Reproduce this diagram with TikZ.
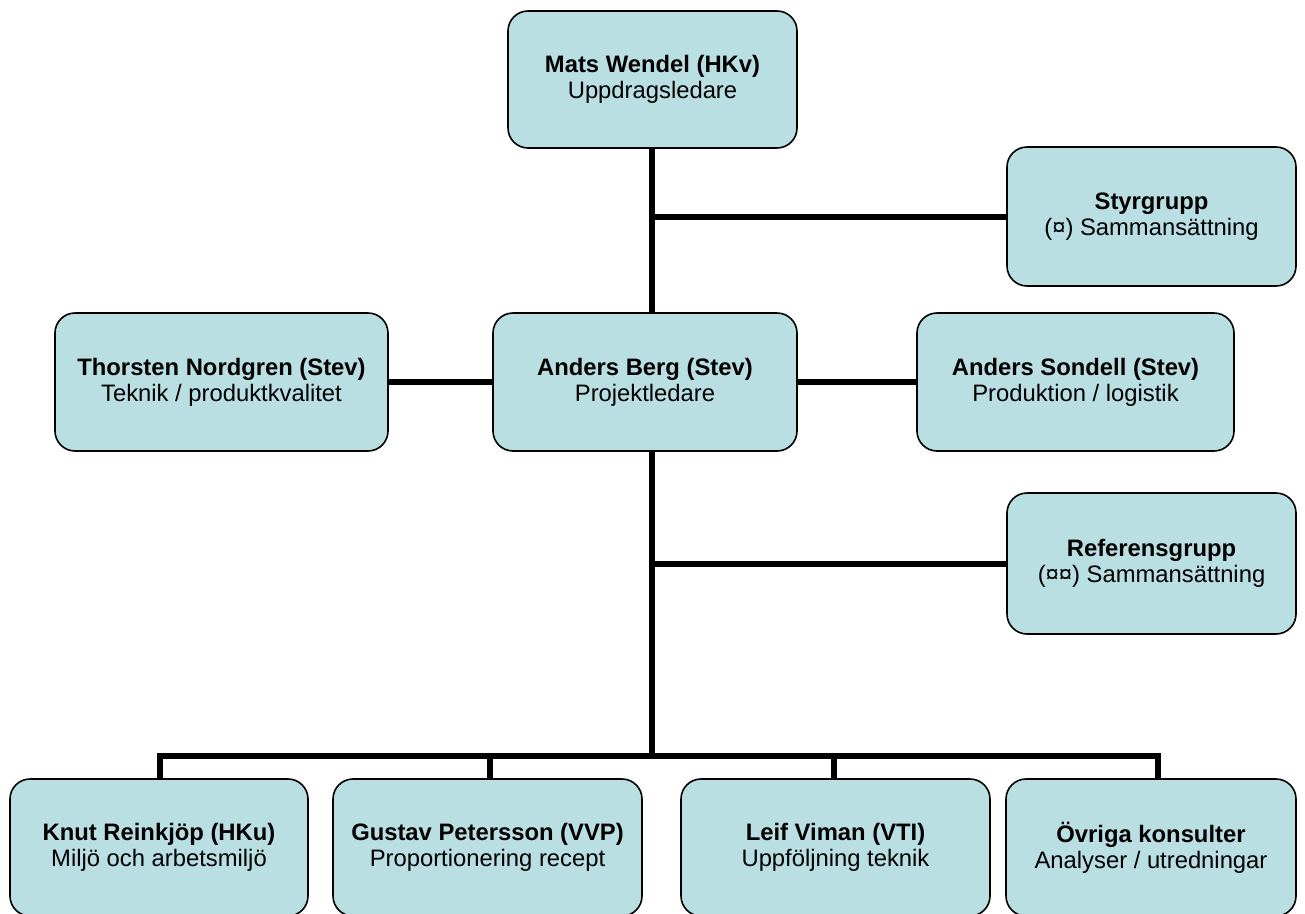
\documentclass[tikz,border=0pt]{standalone}
\usepackage{fontspec}
\setmainfont{Liberation Sans}
\definecolor{boxfill}{RGB}{185,223,227}
\begin{document}
\begin{tikzpicture}[x=1pt,y=-1pt,
  box/.style={draw=black, line width=1.6pt, fill=boxfill, rounded corners=20pt,
    align=center, inner sep=0pt, font=\fontsize{23.8}{26}\selectfont},
  conn/.style={line width=6pt, line join=miter}]
\useasboundingbox (0,0) rectangle (1305,913);
\clip (0,0) rectangle (1305,913);
% boxes
\node[box, minimum width=289pt, minimum height=137pt] (mats) at (652.5,79.5) {\textbf{Mats Wendel (HKv)}\\Uppdragsledare};
\node[box, minimum width=289pt, minimum height=139pt] (styr) at (1151.5,216.5) {\textbf{Styrgrupp}\\(¤) Sammansättning};
\node[box, minimum width=333pt, minimum height=138pt] (thor) at (221.5,382) {\textbf{Thorsten Nordgren (Stev)}\\Teknik / produktkvalitet};
\node[box, minimum width=304pt, minimum height=138pt] (berg) at (645,382) {\textbf{Anders Berg (Stev)}\\Projektledare};
\node[box, minimum width=317pt, minimum height=138pt] (sond) at (1075.5,382) {\textbf{Anders Sondell (Stev)}\\Produktion / logistik};
\node[box, minimum width=289pt, minimum height=141pt] (ref) at (1151.5,563.5) {\textbf{Referensgrupp}\\(¤¤) Sammansättning};
\node[box, minimum width=298pt, minimum height=137pt] (knut) at (159,847.5) {\textbf{Knut Reinkjöp (HKu)}\\Miljö och arbetsmiljö};
\node[box, minimum width=309pt, minimum height=137pt] (gust) at (487.5,847.5) {\textbf{Gustav Petersson (VVP)}\\Proportionering recept};
\node[box, minimum width=309pt, minimum height=137pt] (leif) at (835.5,847.5) {\textbf{Leif Viman (VTI)}\\Uppföljning teknik};
\node[box, minimum width=290pt, minimum height=137pt] (ovr) at (1151,847.5) {\textbf{Övriga konsulter}\\Analyser / utredningar};
% junction coordinates
\coordinate (trunk) at (652,0);
\coordinate (j1) at (652,216.5);
\coordinate (j2) at (652,563.5);
\coordinate (jb) at (652,756);
\coordinate (d1) at (159.5,756);
\coordinate (d2) at (490,756);
\coordinate (d3) at (834,756);
\coordinate (d4) at (1157.5,756);
% connectors
\draw[conn] (trunk |- mats.south) -- (trunk |- berg.north);
\draw[conn] (j1) -- (styr.west);
\draw[conn] (thor.east) -- (berg.west);
\draw[conn] (berg.east) -- (sond.west);
\draw[conn] (trunk |- berg.south) -- (jb);
\draw[conn] (j2) -- (ref.west);
\draw[conn] (d1 |- knut.north) -- (d1) -- (d4) -- (d4 |- ovr.north);
\draw[conn] (d2) -- (d2 |- gust.north);
\draw[conn] (d3) -- (d3 |- leif.north);
\end{tikzpicture}
\end{document}
